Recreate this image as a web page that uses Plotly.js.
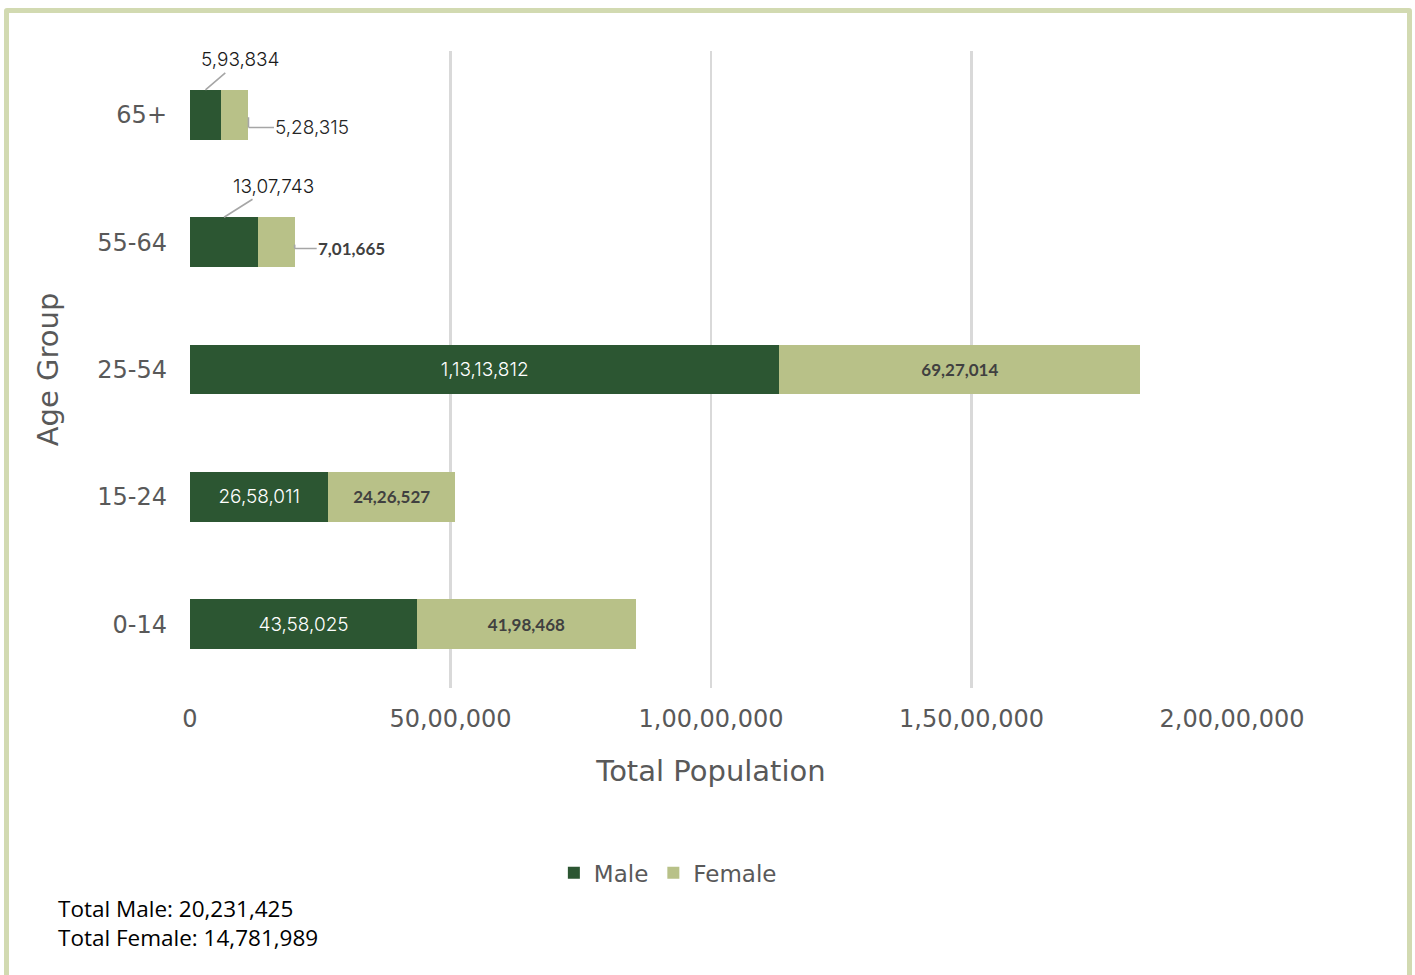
<!DOCTYPE html>
<html><head><meta charset="utf-8">
<script src="https://cdn.plot.ly/plotly-3.0.1.min.js"></script>
<style>
html,body{margin:0;padding:0;background:#fff;overflow:hidden;width:1415px;height:975px}
#frame{position:absolute;left:4px;top:8px;width:1398px;height:1100px;border:5px solid #d2dab1;border-radius:3px;}
#chart{position:absolute;left:0;top:0;width:1415px;height:975px}
</style></head><body>
<div id="frame"></div><div id="chart"></div>
<script>
// ---- data ----
const ageGroups = ['0-14', '15-24', '25-54', '55-64', '65+'];
const maleValues = [4358025, 2658011, 11313812, 1307743, 593834];
const femaleValues = [4198468, 2426527, 6927014, 701665, 528315];
const xTickValues = [0, 5000000, 10000000, 15000000, 20000000];
const calloutGroups = ['55-64', '65+'];

// ---- helpers ----
function inr(n) {
  const s = String(Math.round(n));
  if (s.length <= 3) return s;
  const last3 = s.slice(-3);
  const rest = s.slice(0, -3).replace(/\B(?=(\d{2})+(?!\d))/g, ',');
  return rest + ',' + last3;
}
const FONT = 'DejaVu Sans, Noto Sans, sans-serif';
const LIGHT = 'Inter, Noto Sans, sans-serif';
const GREY = '#595959';
const MALE_C = '#2c5632';
const FEMALE_C = '#b8c188';

const maleText = ageGroups.map((g, i) => calloutGroups.includes(g) ? '' : inr(maleValues[i]));
const femaleText = ageGroups.map((g, i) => calloutGroups.includes(g) ? '' : inr(femaleValues[i]));

const traces = [
  {
    type: 'bar', orientation: 'h', name: 'Male',
    y: ageGroups, x: maleValues,
    marker: {color: MALE_C},
    text: maleText, textposition: 'inside', insidetextanchor: 'middle',
    textangle: 0, constraintext: 'none',
    textfont: {family: LIGHT, size: 19, color: '#ffffff', weight: 300},
    hoverinfo: 'none'
  },
  {
    type: 'bar', orientation: 'h', name: 'Female',
    y: ageGroups, x: femaleValues,
    marker: {color: FEMALE_C},
    text: femaleText, textposition: 'inside', insidetextanchor: 'middle',
    textangle: 0, constraintext: 'none',
    textfont: {family: 'Lato, Carlito, sans-serif', size: 17, color: '#404040', weight: 'bold'},
    hoverinfo: 'none'
  }
];

// callout styles (pixel offsets)
const calloutStyle = {
  '65+':   {mAx: 35, mAy: -30, fDy: -0.1,  fAx: 64, fFont: {family: LIGHT, size: 19, color: '#262626', weight: 300}},
  '55-64': {mAx: 49, mAy: -31, fDy: -0.05, fAx: 57, fFont: {family: 'Lato, Carlito, sans-serif', size: 17, color: '#404040', weight: 'bold'}}
};

const annotations = [];
const shapes = [];
calloutGroups.forEach(g => {
  const i = ageGroups.indexOf(g);
  const st = calloutStyle[g];
  annotations.push({
    x: maleValues[i] / 2, y: i + 0.195, xref: 'x', yref: 'y',
    text: inr(maleValues[i]), showarrow: true, arrowhead: 0, arrowwidth: 1.6,
    arrowcolor: '#a6a6a6', standoff: 0, ax: st.mAx, ay: st.mAy,
    font: {family: LIGHT, size: 19, color: '#1a1a1a', weight: 300}
  });
  const tot = maleValues[i] + femaleValues[i];
  annotations.push({
    x: tot, y: i + st.fDy, xref: 'x', yref: 'y',
    text: inr(femaleValues[i]), showarrow: true, arrowhead: 0, arrowwidth: 1.6,
    arrowcolor: '#a6a6a6', standoff: 0, ax: st.fAx, ay: 0,
    font: st.fFont
  });
  shapes.push({
    type: 'line', xref: 'x', yref: 'y', x0: tot, x1: tot, y0: i - 0.02, y1: i + st.fDy,
    line: {color: '#a6a6a6', width: 1.6}
  });
});

const totalMale = maleValues.reduce((a, b) => a + b, 0);
const totalFemale = femaleValues.reduce((a, b) => a + b, 0);
annotations.push({
  xref: 'paper', yref: 'paper', x: -0.1286, y: -0.3697, xanchor: 'left', yanchor: 'middle',
  text: 'Total Male: ' + totalMale.toLocaleString('en-US') + '<br>Total Female: ' + totalFemale.toLocaleString('en-US'),
  showarrow: false, align: 'left',
  font: {family: 'Open Sans, sans-serif', size: 22.5, color: '#000000'}
});

const layout = {
  width: 1415, height: 975,
  margin: {l: 190, r: 183, t: 51, b: 287},
  paper_bgcolor: 'rgba(0,0,0,0)', plot_bgcolor: 'rgba(0,0,0,0)',
  barmode: 'stack', bargap: 0.61,
  showlegend: true,
  xaxis: {
    range: [0, 20000000], tickvals: xTickValues, ticktext: xTickValues.map(inr),
    showgrid: true, gridcolor: '#d9d9d9', gridwidth: 2.5, zeroline: false, showline: false,
    ticks: '', ticklabelstandoff: 14,
    tickfont: {family: FONT, size: 24, color: GREY},
    title: {text: 'Total Population', font: {family: FONT, size: 29, color: GREY}, standoff: 28}
  },
  yaxis: {
    type: 'category', categoryorder: 'array', categoryarray: ageGroups,
    range: [-0.5, 4.5], showgrid: false, zeroline: false, showline: false,
    ticks: '', ticklabelstandoff: 22,
    tickfont: {family: FONT, size: 24, color: GREY},
    title: {text: 'Age Group', font: {family: FONT, size: 29, color: GREY}, standoff: 30}
  },
  legend: {
    orientation: 'h', x: 0.4586, xanchor: 'center', y: -0.29, yanchor: 'middle',
    font: {family: FONT, size: 23, color: GREY}, traceorder: 'normal'
  },
  annotations: annotations,
  shapes: shapes
};

Plotly.newPlot('chart', traces, layout, {displayModeBar: false, staticPlot: true});
</script>
</body></html>
